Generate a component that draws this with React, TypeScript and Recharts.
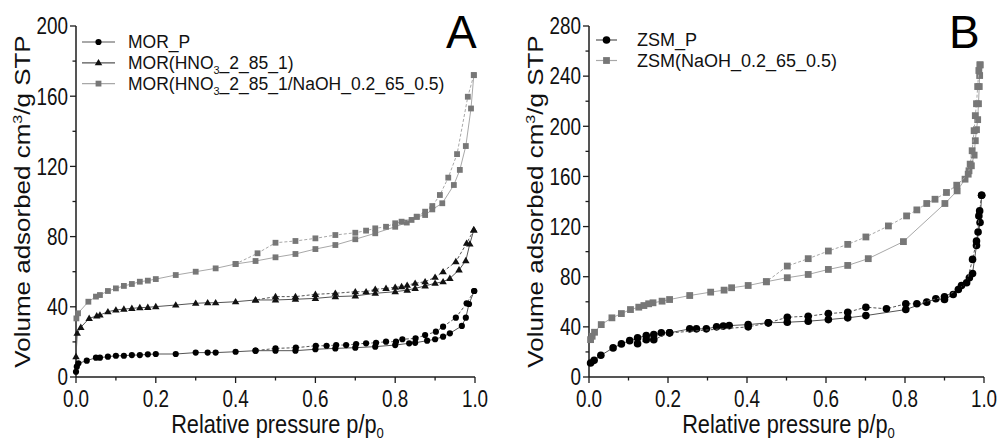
import React from 'react';
import { ScatterChart, Scatter, XAxis, YAxis, Legend } from 'recharts';

const FONT = '"Liberation Sans", Arial, Helvetica, sans-serif';
const AXIS = '#1c1c1c';
const GREY = '#777777';

type Pt = [number, number];

// Panel A – mordenite samples, [p/p0, cm3/g]
const morPAds: Pt[] = [[0, 3], [0.002, 5.9], [0.006, 7.8], [0.027, 9.3], [0.05, 11], [0.06, 11], [0.08, 11.6], [0.1, 12.1], [0.12, 12.1], [0.14, 12.5], [0.16, 12.5], [0.18, 12.9], [0.2, 13.1], [0.25, 13.1], [0.3, 13.9], [0.33, 13.9], [0.35, 13.9], [0.4, 14.4], [0.45, 15], [0.5, 15], [0.55, 15], [0.6, 15.8], [0.65, 16.3], [0.7, 16.7], [0.75, 17.3], [0.8, 18.2], [0.835, 19.2], [0.85, 19.5], [0.88, 20.7], [0.9, 21.5], [0.92, 23], [0.937, 24.9], [0.967, 29.1], [0.977, 33.8], [0.985, 41.6], [0.998, 49]];
const morPDes: Pt[] = [[0.998, 49], [0.979, 42], [0.952, 33.8], [0.92, 28.7], [0.902, 25.8], [0.875, 23.9], [0.851, 22], [0.818, 21.5], [0.802, 20.1], [0.777, 20.1], [0.752, 19.5], [0.727, 19.2], [0.702, 18.8], [0.677, 18.2], [0.652, 18.2], [0.628, 17.8], [0.601, 17.8], [0.551, 16.7], [0.5, 16.3], [0.45, 15]];

const morHAds: Pt[] = [[0, 11.6], [0.003, 24.9], [0.012, 28.3], [0.033, 33.4], [0.052, 34.8], [0.06, 35.3], [0.08, 37.2], [0.1, 38.2], [0.12, 38.7], [0.14, 39.1], [0.16, 39.5], [0.18, 39.7], [0.2, 40.1], [0.25, 41], [0.3, 42], [0.33, 42.3], [0.35, 42.3], [0.4, 42.9], [0.45, 43.9], [0.5, 43.9], [0.55, 44.3], [0.6, 44.8], [0.65, 45.8], [0.7, 46.2], [0.75, 47.7], [0.8, 48.6], [0.83, 49.5], [0.85, 50.5], [0.875, 51.9], [0.9, 53.4], [0.92, 54.3], [0.937, 56.2], [0.96, 61], [0.977, 66.3], [0.987, 75.8], [0.997, 83.8]];
const morHDes: Pt[] = [[0.997, 83.8], [0.979, 76.2], [0.952, 65.7], [0.92, 60], [0.9, 56.8], [0.875, 54.3], [0.85, 53.4], [0.83, 52.3], [0.816, 51.5], [0.8, 51.1], [0.777, 50.5], [0.75, 50], [0.727, 48.6], [0.7, 48.6], [0.65, 47.7], [0.6, 47.1], [0.55, 45.8], [0.5, 45.8], [0.45, 43.9]];

const morHNAds: Pt[] = [[0.001, 33.4], [0.005, 36.3], [0.031, 42.9], [0.05, 45.8], [0.06, 46.7], [0.08, 49], [0.1, 50.5], [0.12, 51.9], [0.14, 53], [0.16, 54.3], [0.18, 54.9], [0.2, 55.8], [0.25, 58.1], [0.3, 60], [0.35, 61.9], [0.4, 64.4], [0.45, 66.1], [0.5, 68.2], [0.55, 70.1], [0.6, 72.9], [0.65, 75.2], [0.7, 78.5], [0.75, 81.9], [0.8, 85.6], [0.829, 88], [0.854, 91.3], [0.875, 92.3], [0.893, 95.5], [0.918, 99], [0.947, 109.4], [0.962, 118], [0.977, 131.6], [0.99, 153], [0.997, 172]];
const morHNDes: Pt[] = [[0.997, 172], [0.982, 159.7], [0.955, 127], [0.933, 113.6], [0.912, 103.7], [0.893, 97.4], [0.875, 94.2], [0.854, 91.3], [0.841, 89.5], [0.816, 88.5], [0.8, 87.6], [0.777, 85.6], [0.75, 84.7], [0.727, 83.4], [0.7, 82.2], [0.65, 80.9], [0.6, 79], [0.55, 77.5], [0.5, 76.5], [0.455, 70.5], [0.4, 64.4]];

// Panel B – ZSM-5 samples
const zsmPAds: Pt[] = [[0.004, 11.2], [0.013, 13.3], [0.03, 17.3], [0.061, 23.2], [0.082, 26.4], [0.103, 29], [0.123, 31.2], [0.145, 33], [0.164, 33.8], [0.183, 35.2], [0.204, 35.2], [0.255, 38.4], [0.272, 38.4], [0.297, 38.4], [0.323, 40], [0.34, 40.6], [0.355, 41], [0.403, 41.8], [0.454, 43.2], [0.502, 43.7], [0.555, 44.5], [0.606, 45.8], [0.655, 47.2], [0.701, 49], [0.802, 53.8], [0.855, 59.7], [0.878, 62.4], [0.9, 61.8], [0.922, 65.8], [0.943, 73], [0.963, 79.2], [0.971, 82.6], [0.981, 105], [0.99, 123.2], [0.994, 145]];
const zsmPDes: Pt[] = [[0.994, 145], [0.989, 132.5], [0.987, 128.5], [0.985, 115.7], [0.981, 108.5], [0.971, 93.8], [0.956, 75.2], [0.935, 69.8], [0.9, 64], [0.83, 58.4], [0.802, 58.4], [0.753, 54.4], [0.701, 55.7], [0.655, 51.7], [0.606, 50.6], [0.555, 48.5], [0.502, 47.7], [0.454, 43.2], [0.403, 40], [0.204, 35.2], [0.164, 29.8], [0.145, 29.8], [0.123, 26.6]];

const zsmNAds: Pt[] = [[0.004, 29.8], [0.008, 32.5], [0.014, 35.7], [0.031, 41.8], [0.058, 47.2], [0.082, 50.6], [0.105, 53.8], [0.126, 55.7], [0.139, 57], [0.151, 58.4], [0.162, 59.2], [0.185, 60.5], [0.204, 61.8], [0.255, 65], [0.308, 67.7], [0.342, 69.3], [0.361, 71.2], [0.403, 73], [0.449, 76], [0.502, 79.2], [0.555, 81.8], [0.606, 85.8], [0.655, 89], [0.707, 94.4], [0.796, 108], [0.901, 138.4], [0.932, 148.5], [0.952, 157.8], [0.962, 164.5], [0.968, 168.5], [0.975, 177], [0.978, 188.5], [0.981, 197.3], [0.984, 205.3], [0.986, 218], [0.988, 231.7], [0.989, 240.5], [0.99, 249]];
const zsmNDes: Pt[] = [[0.99, 249], [0.987, 244.5], [0.984, 231.7], [0.981, 218], [0.978, 208.5], [0.975, 196.5], [0.97, 180.5], [0.965, 169.8], [0.96, 161.8], [0.931, 153], [0.905, 147.2], [0.876, 141.8], [0.855, 138.4], [0.83, 133.3], [0.804, 128.5], [0.758, 120.5], [0.701, 111.7], [0.655, 105.8], [0.606, 100.5], [0.555, 94.4], [0.502, 88.5], [0.449, 76]];

const xTicks = [0, 0.1, 0.2, 0.3, 0.4, 0.5, 0.6, 0.7, 0.8, 0.9, 1];
const yTicksA = [0, 20, 40, 60, 80, 100, 120, 140, 160, 180, 200];
const yTicksB = [0, 20, 40, 60, 80, 100, 120, 140, 160, 180, 200, 220, 240, 260, 280];

type Kind = 'circle' | 'square' | 'triangle';
interface Series { name: string; kind: Kind; color: string; line: string; size: number; ads: Pt[]; des: Pt[] }

const seriesA: Series[] = [
  { name: 'MOR_P', kind: 'circle', color: '#000', line: '#555', size: 6.2, ads: morPAds, des: morPDes },
  { name: 'MOR(HNO3_2_85_1)', kind: 'triangle', color: '#111', line: '#555', size: 7.5, ads: morHAds, des: morHDes },
  { name: 'MOR(HNO3_2_85_1/NaOH_0.2_65_0.5)', kind: 'square', color: GREY, line: '#a8a8a8', size: 5.8, ads: morHNAds, des: morHNDes },
];
const seriesB: Series[] = [
  { name: 'ZSM_P', kind: 'circle', color: '#000', line: '#555', size: 7.6, ads: zsmPAds, des: zsmPDes },
  { name: 'ZSM(NaOH_0.2_65_0.5)', kind: 'square', color: GREY, line: '#a8a8a8', size: 6.8, ads: zsmNAds, des: zsmNDes },
];

const toXY = (a: Pt[]) => a.map(([x, y]) => ({ x, y }));

function Marker({ kind, cx, cy, size, color }: { kind: Kind; cx: number; cy: number; size: number; color: string }) {
  if (kind === 'circle') return <circle cx={cx} cy={cy} r={size / 2} fill={color} />;
  if (kind === 'square') return <rect x={cx - size / 2} y={cy - size / 2} width={size} height={size} fill={color} />;
  const h = size * 0.85;
  return <polygon points={`${cx},${cy - h * 0.6} ${cx + size / 2},${cy + h * 0.4} ${cx - size / 2},${cy + h * 0.4}`} fill={color} />;
}

// "HNO3" gets a subscript 3
function renderName(name: string, fs: number) {
  const parts = name.split('HNO3');
  if (parts.length === 1) return name;
  return (
    <>
      {parts[0]}HNO
      <tspan dy={fs * 0.28} fontSize={fs * 0.62}>3</tspan>
      <tspan dy={-fs * 0.28}>{parts[1]}</tspan>
    </>
  );
}

const XTick = (props: any) => {
  const { x, y, payload } = props;
  const v = payload.value as number;
  const major = Math.round(v * 10) % 2 === 0;
  return (
    <g>
      <line x1={x} x2={x} y1={y} y2={y + (major ? 6 : 3.5)} stroke={AXIS} strokeWidth={1.3} />
      {major && (
        <text transform={`translate(${x},${y + 29.5}) scale(0.82,1)`} textAnchor="middle" fontSize={23} fontFamily={FONT} fill="#111">
          {v.toFixed(1)}
        </text>
      )}
    </g>
  );
};

const YTick = (props: any) => {
  const { x, y, payload } = props;
  const v = payload.value as number;
  const major = v % 40 === 0;
  return (
    <g>
      <line x1={x - (major ? 6 : 3.5)} x2={x} y1={y} y2={y} stroke={AXIS} strokeWidth={1.3} />
      {major && (
        <text transform={`translate(${x - 8},${y + 8.3}) scale(0.82,1)`} textAnchor="end" fontSize={23} fontFamily={FONT} fill="#111">
          {v}
        </text>
      )}
    </g>
  );
};

const xTitle = (props: any) => {
  const vb = props.viewBox;
  return (
    <text transform={`translate(${vb.x + vb.width / 2 + 2},${vb.y + 56}) scale(0.87,1)`} textAnchor="middle" fontSize={25} fontFamily={FONT} fill="#111">
      Relative pressure p/p<tspan dy={5} fontSize={15}>0</tspan>
    </text>
  );
};

const yTitle = (props: any) => {
  const vb = props.viewBox;
  return (
    <text transform={`translate(${vb.x + vb.width - 46},${vb.y + vb.height / 2}) rotate(-90) scale(1,0.85)`} textAnchor="middle" fontSize={26} fontFamily={FONT} fill="#111">
      Volume adsorbed cm<tspan dy={-9} fontSize={16}>3</tspan><tspan dy={9}>/g STP</tspan>
    </text>
  );
};

function makeLegend(rows: Series[], o: { x1: number; x2: number; tx: number; y0: number; dy: number; fs: number; letter: string; lx: number }) {
  return () => (
    <svg width={500} height={100} style={{ display: 'block', overflow: 'visible' }}>
      {rows.map((s, i) => {
        const cy = o.y0 + i * o.dy;
        return (
          <g key={s.name}>
            <line x1={o.x1} x2={o.x2} y1={cy} y2={cy} stroke={s.line} strokeWidth={1.2} />
            <Marker kind={s.kind} cx={(o.x1 + o.x2) / 2} cy={cy} size={s.size} color={s.color} />
            <text x={o.tx} y={cy + o.fs * 0.36} fontSize={o.fs} fontFamily={FONT} fill="#111">
              {renderName(s.name, o.fs)}
            </text>
          </g>
        );
      })}
      <text x={o.lx} y={48} fontSize={46} fontFamily={FONT} fill="#000">{o.letter}</text>
    </svg>
  );
}

function Panel({ series, yMax, yTicks, yWidth, right, legend }: { series: Series[]; yMax: number; yTicks: number[]; yWidth: number; right: number; legend: () => React.ReactElement }) {
  return (
    <ScatterChart width={500} height={442} margin={{ top: 26, right, bottom: 0, left: 0 }}>
      <XAxis type="number" dataKey="x" domain={[0, 1]} ticks={xTicks} interval={0} height={65}
        axisLine={{ stroke: AXIS, strokeWidth: 1.5 }} tickLine={false} tickSize={0} tickMargin={0} tick={XTick} label={xTitle} />
      <YAxis type="number" dataKey="y" domain={[0, yMax]} ticks={yTicks} interval={0} width={yWidth}
        axisLine={{ stroke: AXIS, strokeWidth: 1.5 }} tickLine={false} tickSize={0} tickMargin={0} tick={YTick} label={yTitle} />
      <Legend layout="horizontal" verticalAlign="middle" align="center" content={legend}
        wrapperStyle={{ left: 0, top: 0, width: 500, height: 100 }} />
      {series.slice().reverse().flatMap(s => [
        <Scatter key={s.name + '-ads'} name={s.name} data={toXY(s.ads)} line={{ stroke: s.line, strokeWidth: 1 }} lineType="joint"
          shape={(p: any) => <Marker kind={s.kind} cx={p.cx} cy={p.cy} size={s.size} color={s.color} />}
          isAnimationActive={false} />,
        <Scatter key={s.name + '-des'} name={s.name + ' des'} data={toXY(s.des)} line={{ stroke: s.line, strokeWidth: 1, strokeDasharray: '3 2' }} lineType="joint"
          shape={(p: any) => <Marker kind={s.kind} cx={p.cx} cy={p.cy} size={s.size} color={s.color} />}
          isAnimationActive={false} legendType="none" />,
      ])}
    </ScatterChart>
  );
}

export default function App() {
  return (
    <div style={{ position: 'absolute', left: 0, top: 0, width: 1000, height: 442, background: '#fff', display: 'flex' }}>
      <Panel series={seriesA} yMax={200} yTicks={yTicksA} yWidth={76} right={25}
        legend={makeLegend(seriesA, { x1: 82, x2: 115, tx: 128, y0: 42, dy: 20.8, fs: 17.5, letter: 'A', lx: 446 })} />
      <Panel series={seriesB} yMax={280} yTicks={yTicksB} yWidth={89} right={16}
        legend={makeLegend(seriesB, { x1: 96, x2: 117, tx: 137, y0: 40, dy: 20.5, fs: 18, letter: 'B', lx: 449 })} />
    </div>
  );
}
